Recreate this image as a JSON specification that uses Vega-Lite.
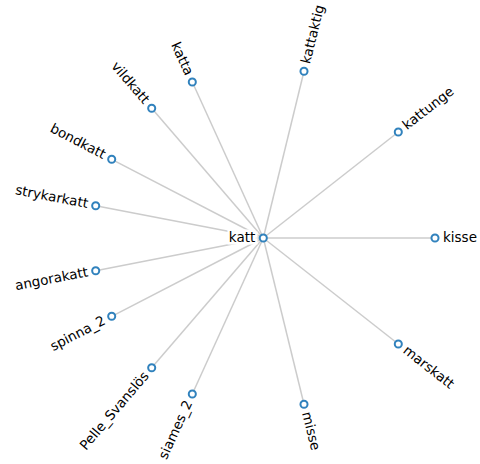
{
  "$schema": "https://vega.github.io/schema/vega-lite/v6.json",
  "width": 480,
  "height": 464,
  "autosize": {"type": "fit", "contains": "padding"},
  "padding": 0,
  "background": "white",
  "config": {"view": {"stroke": null}},
  "datasets": {
    "nodes": [
      {"name": "katt", "x": 263.3, "y": 238, "angle": 0, "side": "center", "parent": null},
      {"name": "kisse", "x": 435, "y": 238, "angle": 0, "side": "right", "parent": "katt"},
      {"name": "marskatt", "x": 398.3, "y": 344, "angle": 38, "side": "right", "parent": "katt"},
      {"name": "misse", "x": 304, "y": 404.3, "angle": 76, "side": "right", "parent": "katt"},
      {"name": "siames_2", "x": 192.3, "y": 394, "angle": -65.5, "side": "left", "parent": "katt"},
      {"name": "Pelle_Svanslös", "x": 151.7, "y": 367.7, "angle": -49.5, "side": "left", "parent": "katt"},
      {"name": "spinna_2", "x": 111.7, "y": 316.3, "angle": -27.5, "side": "left", "parent": "katt"},
      {"name": "angorakatt", "x": 95.7, "y": 270.7, "angle": -11, "side": "left", "parent": "katt"},
      {"name": "strykarkatt", "x": 95.7, "y": 205.7, "angle": 11, "side": "left", "parent": "katt"},
      {"name": "bondkatt", "x": 111.7, "y": 159.3, "angle": 27.5, "side": "left", "parent": "katt"},
      {"name": "vildkatt", "x": 151.7, "y": 108.3, "angle": 49.5, "side": "left", "parent": "katt"},
      {"name": "katta", "x": 192.3, "y": 82, "angle": 65.5, "side": "left", "parent": "katt"},
      {"name": "kattaktig", "x": 304, "y": 71.3, "angle": -76, "side": "right", "parent": "katt"},
      {"name": "kattunge", "x": 398.3, "y": 132, "angle": -38, "side": "right", "parent": "katt"}
    ]
  },
  "data": {"name": "nodes"},
  "encoding": {
    "x": {"field": "x", "type": "quantitative", "scale": {"domain": [0, 480], "nice": false, "zero": false}, "axis": null},
    "y": {"field": "y", "type": "quantitative", "scale": {"domain": [0, 464], "nice": false, "zero": false, "reverse": true}, "axis": null}
  },
  "layer": [
    {
      "transform": [
        {"filter": "datum.parent != null"},
        {"lookup": "parent", "from": {"data": {"name": "nodes"}, "key": "name", "fields": ["x", "y"]}, "as": ["px", "py"]}
      ],
      "mark": {"type": "rule", "stroke": "#cccccc", "strokeWidth": 1.5},
      "encoding": {
        "x2": {"field": "px"},
        "y2": {"field": "py"}
      }
    },
    {
      "transform": [{"filter": "datum.side == 'center'"}],
      "mark": {"type": "text", "align": "right", "baseline": "middle", "dx": -8, "font": "DejaVu Sans", "fontSize": 13.5, "stroke": "white", "strokeWidth": 5, "fill": "white"},
      "encoding": {"text": {"field": "name"}}
    },
    {
      "mark": {"type": "point", "shape": "circle", "size": 50, "filled": false, "fill": "white", "fillOpacity": 1, "stroke": "#3182bd", "strokeWidth": 2, "opacity": 1}
    },
    {
      "transform": [{"filter": "datum.side == 'right'"}],
      "mark": {"type": "text", "align": "left", "baseline": "middle", "dx": 8, "font": "DejaVu Sans", "fontSize": 13.5, "fill": "black"},
      "encoding": {"text": {"field": "name"}, "angle": {"field": "angle", "type": "quantitative", "scale": null}}
    },
    {
      "transform": [{"filter": "datum.side == 'left'"}],
      "mark": {"type": "text", "align": "right", "baseline": "middle", "dx": -8, "font": "DejaVu Sans", "fontSize": 13.5, "fill": "black"},
      "encoding": {"text": {"field": "name"}, "angle": {"field": "angle", "type": "quantitative", "scale": null}}
    },
    {
      "transform": [{"filter": "datum.side == 'center'"}],
      "mark": {"type": "text", "align": "right", "baseline": "middle", "dx": -8, "font": "DejaVu Sans", "fontSize": 13.5, "fill": "black"},
      "encoding": {"text": {"field": "name"}}
    }
  ]
}
